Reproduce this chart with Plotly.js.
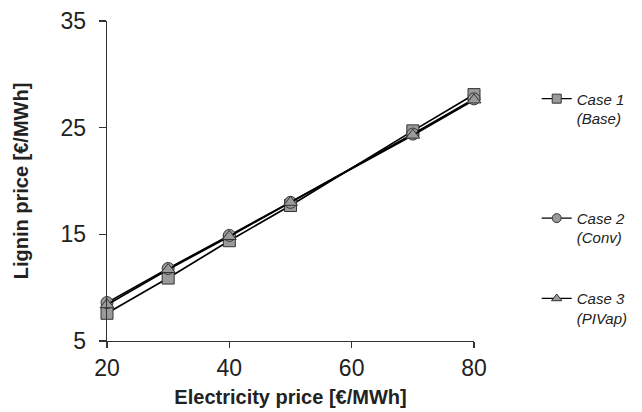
<!DOCTYPE html>
<html>
<head>
<meta charset="utf-8">
<script src="https://cdn.plot.ly/plotly-3.0.1.min.js"></script>
<style>html,body{margin:0;padding:0;background:#fff;}#chart{width:642px;height:412px;}</style>
</head>
<body>
<div id="chart"></div>
<script>
const electricityPrice = [20, 30, 40, 50, 70, 80];
const case1Base = [7.6, 10.9, 14.4, 17.7, 24.7, 28.1];
const case2Conv = [8.6, 11.8, 14.9, 18.0, 24.4, 27.7];
const case3PIVap = [8.4, 11.7, 14.8, 18.0, 24.3, 27.6];
const seriesNames = ["Case 1<br>(Base)", "Case 2<br>(Conv)", "Case 3<br>(PIVap)"];
const xTicks = [20, 40, 60, 80];
const yTicks = [5, 15, 25, 35];

const markerFill = "#9a9a9a";
const markerLine = {color: "#333", width: 1};
function mk(y, symbol) {
  return {
    x: electricityPrice, y: y, type: "scatter", mode: "lines+markers", showlegend: false,
    line: {color: "#000", width: 1.7},
    marker: {symbol: symbol, size: 12, color: markerFill, line: markerLine},
    cliponaxis: false
  };
}
// legend-only entries (smaller legend symbols, as in the reference)
function lgEntry(name, symbol, legend) {
  return {
    x: [null], y: [null], name: name, type: "scatter", mode: "lines+markers",
    line: {color: "#000", width: 1.3},
    marker: {symbol: symbol, size: 9, color: markerFill, line: markerLine},
    legend: legend, showlegend: true
  };
}
const data = [
  mk(case1Base, "square"),
  mk(case2Conv, "circle"),
  mk(case3PIVap, "triangle-up"),
  lgEntry(seriesNames[0], "square", "legend"),
  lgEntry(seriesNames[1], "circle", "legend2"),
  lgEntry(seriesNames[2], "triangle-up", "legend3")
];
const legendFont = {family: "Liberation Sans, Arial, sans-serif", size: 15, color: "#222", style: "italic"};
function lg(y) {
  return {xref: "container", yref: "container", x: 0.836, y: y, xanchor: "left", yanchor: "top",
    font: legendFont, valign: "top", bgcolor: "rgba(0,0,0,0)", borderwidth: 0, itemwidth: 30};
}
const layout = {
  width: 642, height: 412,
  margin: {l: 107, r: 168, t: 21, b: 71},
  paper_bgcolor: "#fff", plot_bgcolor: "#fff",
  font: {family: "Liberation Sans, Arial, sans-serif", color: "#222"},
  showlegend: true,
  xaxis: {
    range: [20, 80], tickvals: xTicks, ticktext: xTicks.map(String),
    showline: true, linecolor: "#333", linewidth: 1.3, showgrid: false, zeroline: false,
    ticks: "outside", ticklen: 6, tickcolor: "#333", tickwidth: 1.3,
    tickfont: {size: 23, color: "#222"},
    title: {text: "<b>Electricity price [€/MWh]</b>", font: {size: 20, color: "#222"}, standoff: 10}
  },
  yaxis: {
    range: [5, 35], tickvals: yTicks, ticktext: yTicks.map(String),
    showline: true, linecolor: "#333", linewidth: 1.3, showgrid: false, zeroline: false,
    ticks: "outside", ticklen: 7, tickcolor: "#333", tickwidth: 1.3,
    tickfont: {size: 23, color: "#222"}, ticklabelstandoff: 8,
    title: {text: "<b>Lignin price [€/MWh]</b>", font: {size: 20, color: "#222"}, standoff: 26}
  },
  legend: lg(0.80),
  legend2: lg(0.51),
  legend3: lg(0.315)
};
Plotly.newPlot("chart", data, layout, {displayModeBar: false, staticPlot: true});
</script>
</body>
</html>
